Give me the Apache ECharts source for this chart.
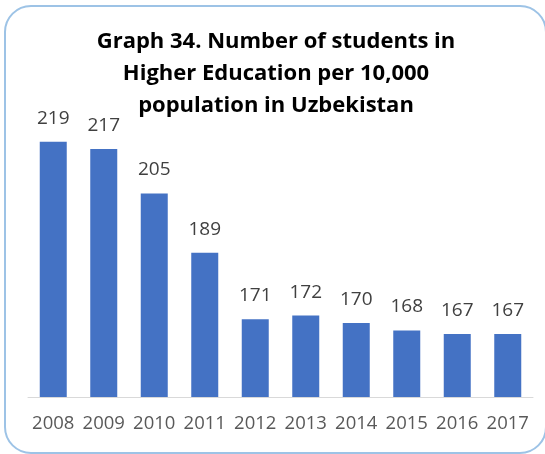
<!DOCTYPE html>
<html>
<head>
<meta charset="utf-8">
<script src="https://cdn.jsdelivr.net/npm/echarts@6/dist/echarts.min.js"></script>
<style>
  html, body { margin: 0; padding: 0; background: #ffffff; }
  #chart { width: 545px; height: 454px; }
</style>
</head>
<body>
<div id="chart"></div>
<script>
// Students in higher education per 10,000 population, Uzbekistan
const years = ['2008', '2009', '2010', '2011', '2012', '2013', '2014', '2015', '2016', '2017'];
const studentsPer10k = [219, 217, 205, 189, 171, 172, 170, 168, 167, 167];
const titleLines = [
  'Graph 34. Number of students in',
  'Higher Education per 10,000',
  'population in Uzbekistan'
];

const chart = echarts.init(document.getElementById('chart'), null, { renderer: 'canvas' });

chart.setOption({
  backgroundColor: '#ffffff',
  animation: false,
  title: {
    text: titleLines.join('\n'),
    left: 276,
    top: 26,
    padding: 0,
    textAlign: 'center',
    textStyle: {
      fontFamily: 'Open Sans',
      fontWeight: 'bold',
      fontSize: 22,
      lineHeight: 32,
      color: '#000000'
    }
  },
  graphic: [{
    type: 'rect',
    shape: { x: 5, y: 6, width: 541, height: 447, r: 26 },
    style: { fill: 'none', stroke: '#9DC3E6', lineWidth: 2 },
    z: -1
  }],
  grid: { left: 28, right: 12, top: 27, bottom: 57 },
  xAxis: {
    type: 'category',
    data: years,
    axisLine: { show: true, lineStyle: { color: '#D9D9D9', width: 1 } },
    axisTick: { show: false },
    axisLabel: {
      interval: 0,
      margin: 17,
      fontFamily: 'Open Sans',
      fontSize: 18.5,
      color: '#595959'
    }
  },
  yAxis: {
    type: 'value',
    min: 150,
    max: 250,
    show: false,
    splitLine: { show: false }
  },
  series: [{
    type: 'bar',
    data: studentsPer10k,
    barWidth: 27,
    itemStyle: { color: '#4472C4' },
    label: {
      show: true,
      position: 'top',
      distance: 14,
      fontFamily: 'Open Sans',
      fontSize: 19,
      color: '#404040'
    }
  }]
});
</script>
</body>
</html>
